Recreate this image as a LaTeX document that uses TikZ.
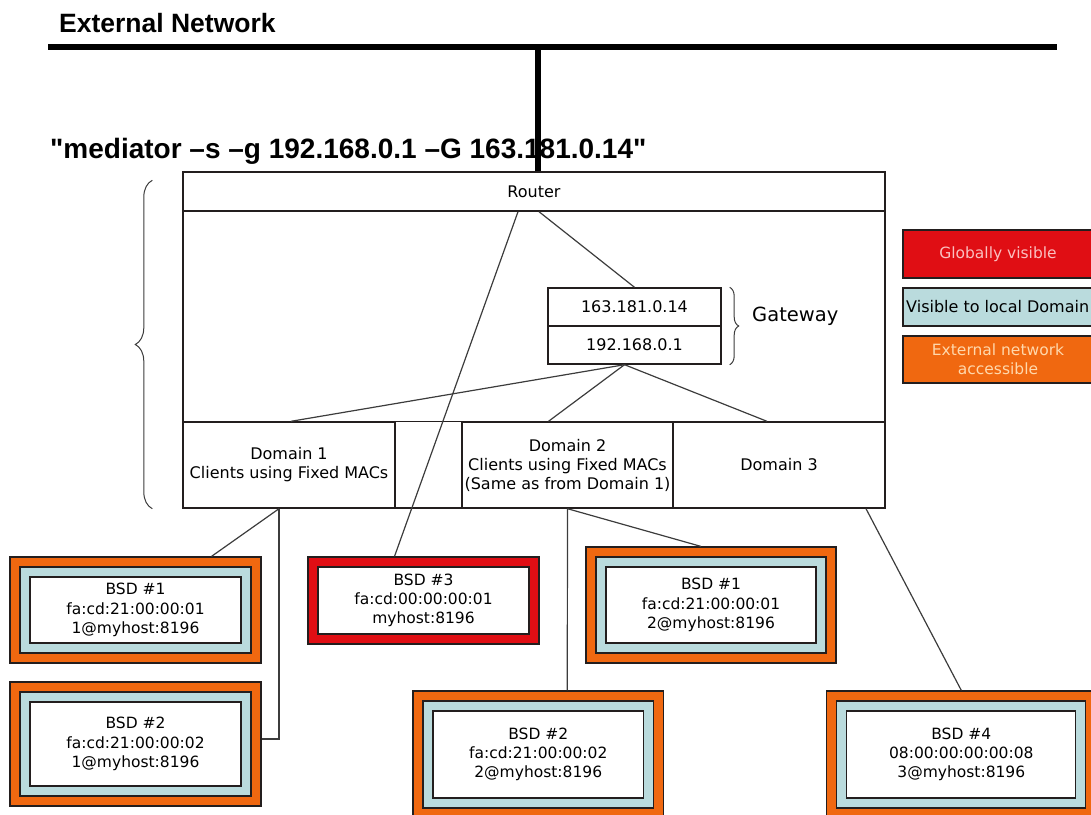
\documentclass[tikz,border=0pt]{standalone}
\usepackage{fontspec}
\setmainfont{DejaVu Sans}
\newfontfamily\headfont{Liberation Sans}
\usetikzlibrary{decorations.pathreplacing}
\definecolor{borange}{RGB}{240,104,16}
\definecolor{bred}{RGB}{224,14,20}
\definecolor{lblue}{RGB}{186,219,221}
\definecolor{edge}{RGB}{35,30,30}
\definecolor{conncol}{RGB}{60,60,60}
\definecolor{redtext}{RGB}{250,192,192}
\definecolor{orangetext}{RGB}{255,216,172}
\newcommand\bsdtriple[6]{%
  \node[layer, fill=borange, minimum width=#4pt+40pt, minimum height=#5pt+40pt] (#1-o) at (#2,#3) {};
  \node[layer, fill=lblue, minimum width=#4pt+20pt, minimum height=#5pt+20pt] (#1-m) at (#2,#3) {};
  \node[layer, fill=white, minimum width=#4pt, minimum height=#5pt, bsdtext] (#1) at (#2,#3) {#6};}
\newcommand\bsdred[6]{%
  \node[layer, fill=bred, minimum width=#4pt+20pt, minimum height=#5pt+20pt] (#1-o) at (#2,#3) {};
  \node[layer, fill=white, minimum width=#4pt, minimum height=#5pt, bsdtext] (#1) at (#2,#3) {#6};}
\begin{document}
\begin{tikzpicture}[x=1pt,y=-1pt,
  box/.style={draw=edge, line width=1.4pt, inner sep=0pt, align=center, font=\fontsize{16}{19}\selectfont},
  rule/.style={draw=edge, line width=1.4pt},
  layer/.style={draw=edge, line width=1.2pt, inner sep=0pt},
  bsdtext/.style={align=center, font=\fontsize{15.5}{19.3}\selectfont},
  conn/.style={draw=conncol, line width=1.2pt},
  netline/.style={draw=black, line width=6.5pt},
  legend/.style={draw=edge, line width=1.2pt, inner sep=0pt, minimum width=190pt, align=center, font=\fontsize{15.5}{19}\selectfont},
  bracestyle/.style={draw=conncol, line width=1pt, decorate},
  head/.style={inner sep=0pt, anchor=base west, font=\headfont\bfseries\fontsize{#1}{#1}\selectfont}]
\useasboundingbox (0,0) rectangle (1091,814);
\clip (0,0) rectangle (1091,814);

% external network
\node[head=26.5] (ext) at (59,32.5) {External Network};
\coordinate (netL) at (48,47);
\coordinate (netR) at (1057,47);
\draw[netline] (netL) -- (netR);
\node[head=28] (cmd) at (50,158) {"mediator –s –g 192.168.0.1 –G 163.181.0.14"};

% system box
\node[draw=edge, line width=1.4pt, minimum width=702pt, minimum height=336pt, inner sep=0pt] (sys) at (534,340) {};
\node[box, minimum width=702pt, minimum height=39pt] (router) at (534,191.5) {Router};
\draw[netline] ([xshift=4pt]router.north) -- ++(0,-125);

% gateway
\node[box, minimum width=173pt, minimum height=38pt] (gw1) at (634.5,307) {163.181.0.14};
\node[box, minimum width=173pt, minimum height=38pt] (gw2) at (634.5,345) {192.168.0.1};
\draw[bracestyle, decoration={brace, amplitude=9pt}] ([xshift=8pt]gw1.north east) -- ([xshift=8pt]gw2.south east);
\node[anchor=base west, inner sep=0pt, font=\fontsize{19.5}{20}\selectfont] (gwlabel) at (752,321.7) {Gateway};

% domains
\node[box, minimum width=212pt, minimum height=86pt] (dom1) at (289,465) {Domain 1\\Clients using Fixed MACs};
\node[box, minimum width=211pt, minimum height=86pt] (dom2) at (567.5,465) {Domain 2\\Clients using Fixed MACs\\(Same as from Domain 1)};
\node[box, minimum width=212pt, minimum height=86pt] (dom3) at (779,465) {Domain 3};
\draw[rule] (sys.west |- dom1.north) -- (sys.east |- dom1.north);
\draw[bracestyle, decoration={brace, amplitude=17pt}] ([xshift=-30pt]sys.south west) -- ([xshift=-30pt, yshift=-9pt]sys.north west);

% BSD boxes
\bsdtriple{b1L}{135.5}{610}{211}{66}{BSD \#1\\fa:cd:21:00:00:01\\1@myhost:8196}
\bsdtriple{b2L}{135.5}{744}{211}{84}{BSD \#2\\fa:cd:21:00:00:02\\1@myhost:8196}
\bsdred{b3}{423.5}{600.5}{211}{67}{BSD \#3\\fa:cd:00:00:00:01\\myhost:8196}
\bsdtriple{b1R}{711}{605}{210}{76}{BSD \#1\\fa:cd:21:00:00:01\\2@myhost:8196}
\bsdtriple{b2M}{538.25}{754.5}{210.5}{87}{BSD \#2\\fa:cd:21:00:00:02\\2@myhost:8196}
\bsdtriple{b4}{961.3}{754.5}{229}{87}{BSD \#4\\08:00:00:00:00:08\\3@myhost:8196}

% connectors
\draw[conn] ([xshift=-16pt]router.south) -- ([xshift=-29pt]b3-o.north);
\draw[conn] ([xshift=5pt]router.south) -- (gw1.north);
\draw[conn] ([xshift=-10pt]gw2.south) -- ([xshift=2pt]dom1.north);
\draw[conn] ([xshift=-10pt]gw2.south) -- ([xshift=-19pt]dom2.north);
\draw[conn] ([xshift=-10pt]gw2.south) -- ([xshift=-12pt]dom3.north);
\draw[conn] ([xshift=-10pt]dom1.south) -- ([xshift=76pt]b1L-o.north);
\draw[conn] ([xshift=-10pt]dom1.south) |- ([yshift=5pt]b2L-o.east);
\draw[conn] (dom2.south) -- ([xshift=-10pt]b1R-o.north);
\draw[conn] (dom2.south) -- ([xshift=29pt]b2M-o.north);
\draw[conn] ([xshift=87pt]dom3.south) -- (b4-o.north);

% legend
\node[legend, fill=bred, text=redtext, minimum height=48pt] (lg1) at (998,254) {Globally visible};
\node[legend, fill=lblue, minimum height=38pt] (lg2) at (998,307) {};
\node[anchor=west, inner sep=0pt, font=\fontsize{16}{18}\selectfont] (lg2t) at (906,307) {Visible to local Domain};
\node[legend, fill=borange, text=orangetext, minimum height=47pt] (lg3) at (998,359.5) {External network\\accessible};
\end{tikzpicture}
\end{document}
